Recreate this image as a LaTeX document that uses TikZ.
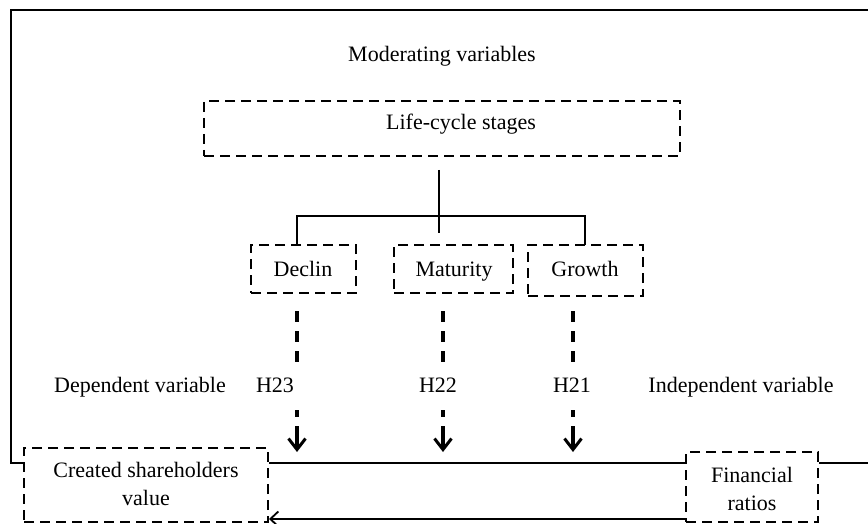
\documentclass[tikz,border=0pt]{standalone}
\usepackage{fontspec}
\setmainfont{Liberation Serif}
\usetikzlibrary{arrows.meta}
\begin{document}
\begin{tikzpicture}[x=1pt,y=-1pt,
  dbox/.style={draw, dash pattern=on 10pt off 6pt, line width=2pt, inner sep=0pt, rectangle},
  txt/.style={font=\fontsize{22}{28}\selectfont, inner sep=0pt, anchor=base, align=center},
  thinline/.style={line width=1.3pt},
  hdash/.style={line width=3.2pt, dash pattern=on 11pt off 9pt},
  harrow/.style={line width=3.2pt, -{Straight Barb[length=11pt,width=17pt,line width=3pt]}},
  frame/.style={line width=2.8pt},
  baseline/.style={line width=2.2pt},
  backarrow/.style={line width=2pt, -{Straight Barb[length=8pt,width=15pt,line width=1.8pt]}}]
\useasboundingbox (0,0) rectangle (868,524);

% texts
\node[txt] (mod) at (442,62) {Moderating variables};
\node[txt] (dep) at (140,392) {Dependent variable};
\node[txt] (indep) at (741,392) {Independent variable};
\node[txt] (h23) at (275,392) {H23};
\node[txt] (h22) at (438,392) {H22};
\node[txt] (h21) at (572,392) {H21};

% life-cycle box
\node[dbox, minimum width=476pt, minimum height=55pt] (lcs) at (442,128.5) {};
\node[txt] (lcstxt) at (461,130) {Life-cycle stages};

% stage boxes
\node[dbox, minimum width=105pt, minimum height=48pt] (declin) at (303.5,269) {};
\node[txt] (declintxt) at (303,276) {Declin};
\node[dbox, minimum width=119pt, minimum height=48pt] (maturity) at (453.5,269) {};
\node[txt] (maturitytxt) at (454,276) {Maturity};
\node[dbox, minimum width=115pt, minimum height=51pt] (growth) at (585.5,270.5) {};
\node[txt] (growthtxt) at (585,276) {Growth};

% tree connector
\coordinate (stem) at (439,170);
\coordinate (junction) at (439,216);
\draw[thinline] (stem) -- (439,233);
\draw[thinline] (297,245) |- (585,216) -- (585,245);

% bottom boxes
\node[dbox, minimum width=244pt, minimum height=74pt] (created) at (146,485) {};
\node[txt] (createdtxt) at (146,505) {Created shareholders\\value};
\node[dbox, minimum width=132pt, minimum height=70pt] (fin) at (752,487) {};
\node[txt] (fintxt) at (752,510) {Financial\\ratios};

% big frame
\draw[frame] (868,10) -- (11,10) -- (11,463) -- (created.west |- 11,463);
\draw[baseline] (created.east |- 0,463) -- (fin.west |- 0,463);
\draw[baseline] (fin.east |- 0,463) -- (868,463);

% bottom arrow
\draw[backarrow] (fin.west |- 0,519) -- (created.east |- 0,519);

% hypothesis arrows
\foreach \x in {297, 443, 573}{
  \draw[hdash] (\x,311) -- (\x,364);
  \draw[line width=3.2pt] (\x,410) -- (\x,417);
  \draw[harrow] (\x,426) -- (\x,452);
}
\end{tikzpicture}
\end{document}
